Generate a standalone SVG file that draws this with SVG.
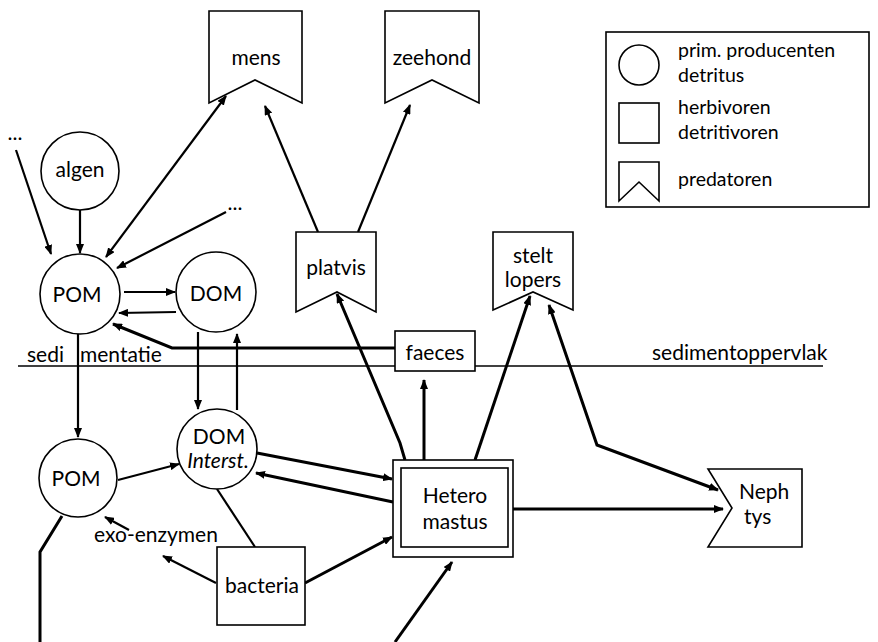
<svg xmlns="http://www.w3.org/2000/svg" width="878" height="642" viewBox="0 0 878 642">
<style>
  .shape { fill: #fff; stroke: #000; stroke-width: 1.6; }
  .t { font-family: Lato, "Open Sans", "Liberation Sans", sans-serif; font-size: 21px; fill: #000; }
  .c { text-anchor: middle; }
  .lg { font-size: 19.5px; }
  .conn line, .conn polyline { stroke: #000; stroke-width: 2.2; fill: none; }
  .conn .thick { stroke-width: 3; }
  .a { marker-end: url(#ah); }
  .b { marker-start: url(#ah); marker-end: url(#ah); }
</style>
<defs>
  <marker id="ah" viewBox="0 0 10 8" refX="9" refY="4" markerWidth="10" markerHeight="8" markerUnits="userSpaceOnUse" orient="auto-start-reverse">
    <path d="M0,0 L10,4 L0,8 z" fill="#000"/>
  </marker>
</defs>
<rect width="878" height="642" fill="#fff"/>

<!-- sediment surface -->
<g id="sediment">
  <line x1="18" y1="366" x2="823" y2="366" stroke="#000" stroke-width="1.6"/>
  <text class="t" x="27" y="362">sedi</text>
  <text class="t" x="80" y="362">mentatie</text>
  <text class="t" x="652" y="360">sedimentoppervlak</text>
</g>

<g class="conn" id="connectors">
  <line class="a" x1="16" y1="150" x2="51" y2="254"/>
  <line class="a" x1="80" y1="210" x2="80" y2="253"/>
  <line class="b" x1="226" y1="96" x2="106" y2="257"/>
  <line class="a" x1="226" y1="212" x2="117" y2="268"/>
  <line class="a" x1="124" y1="292" x2="175" y2="292"/>
  <line class="a" x1="176" y1="312" x2="119" y2="313"/>
  <polyline class="a thick" points="395,348 172,348 113,324"/>
  <line class="a" x1="78" y1="334" x2="78" y2="437"/>
  <line class="a" x1="198" y1="332" x2="198" y2="409"/>
  <line class="a" x1="237" y1="410" x2="237" y2="334"/>
  <line class="a" x1="118" y1="480" x2="179" y2="464"/>
  <line class="a thick" x1="257" y1="453" x2="392" y2="479"/>
  <line class="a thick" x1="393" y1="502" x2="256" y2="473"/>
  <line x1="217" y1="489" x2="255" y2="547"/>
  <line class="a" x1="129" y1="530" x2="105" y2="517"/>
  <line class="a" x1="216" y1="583" x2="163" y2="556"/>
  <line class="a thick" x1="305" y1="583" x2="392" y2="537"/>
  <line class="a thick" x1="395" y1="642" x2="452" y2="562"/>
  <polyline class="thick" points="62,516 40,552 40,642"/>
  <polyline class="a thick" points="405,460 400,443 337,294"/>
  <line class="a thick" x1="424" y1="460" x2="424" y2="380"/>
  <line class="a thick" x1="475" y1="460" x2="530" y2="296"/>
  <polyline class="b thick" points="718,490 597,445 549,305"/>
  <line class="a thick" x1="513" y1="509" x2="723" y2="509"/>
  <line class="a" x1="318" y1="232" x2="265" y2="106"/>
  <line class="a" x1="358" y1="232" x2="410" y2="105"/>
</g>

<g id="dots-left"><text class="t c" x="15" y="140" font-size="14">...</text></g>
<g id="dots-right"><text class="t c" x="235" y="210" font-size="14">...</text></g>

<g id="mens">
  <polygon class="shape" points="209,11 302,11 302,103 255,80 209,103"/>
  <text class="t c" x="256" y="65">mens</text>
</g>
<g id="zeehond">
  <polygon class="shape" points="385,11 479,11 479,103 432,80 385,103"/>
  <text class="t c" x="432" y="65">zeehond</text>
</g>
<g id="algen">
  <circle class="shape" cx="80" cy="171" r="39"/>
  <text class="t c" x="80" y="177">algen</text>
</g>
<g id="pom-top">
  <circle class="shape" cx="80" cy="294" r="40"/>
  <text class="t c" x="77" y="302" font-size="23">POM</text>
</g>
<g id="dom-top">
  <circle class="shape" cx="216" cy="292" r="40"/>
  <text class="t c" x="216" y="301" font-size="23">DOM</text>
</g>
<g id="platvis">
  <polygon class="shape" points="296,232 376,232 376,312 337,292 296,312"/>
  <text class="t c" x="336" y="275">platvis</text>
</g>
<g id="steltlopers">
  <polygon class="shape" points="493,232 573,232 573,310 533,292 493,310"/>
  <text class="t c" x="533" y="263">stelt</text>
  <text class="t c" x="533" y="287">lopers</text>
</g>
<g id="faeces">
  <rect class="shape" x="395" y="331" width="80" height="40"/>
  <text class="t c" x="435" y="360">faeces</text>
</g>
<g id="pom-bottom">
  <circle class="shape" cx="78" cy="478" r="39"/>
  <text class="t c" x="76" y="486" font-size="23">POM</text>
</g>
<g id="dom-interst">
  <circle class="shape" cx="217" cy="449" r="40"/>
  <text class="t c" x="219" y="444" font-size="20">DOM</text>
  <text class="t c" x="218" y="468" font-style="italic" font-size="19">Interst.</text>
</g>
<g id="exo-enzymen">
  <text class="t c" x="156" y="542">exo-enzymen</text>
</g>
<g id="bacteria">
  <rect class="shape" x="217" y="547" width="88" height="78"/>
  <text class="t c" x="262" y="593">bacteria</text>
</g>
<g id="heteromastus">
  <rect class="shape" x="393" y="460" width="120" height="97"/>
  <rect class="shape" x="401" y="468" width="107" height="79"/>
  <text class="t c" x="455" y="503">Hetero</text>
  <text class="t c" x="455" y="529">mastus</text>
</g>
<g id="nephtys">
  <polygon class="shape" points="708,469 802,469 802,547 708,547 732,508"/>
  <text class="t" x="739" y="499" font-size="20">Neph</text>
  <text class="t" x="744" y="524" font-size="20">tys</text>
</g>
<g id="legend">
  <rect class="shape" x="606" y="32" width="263" height="175"/>
  <circle class="shape" cx="639" cy="65" r="20"/>
  <rect class="shape" x="619" y="103" width="40" height="40"/>
  <polygon class="shape" points="619,162 659,162 659,201 639,182 619,201"/>
  <text class="t lg" x="678" y="57">prim. producenten</text>
  <text class="t lg" x="678" y="82">detritus</text>
  <text class="t lg" x="678" y="114">herbivoren</text>
  <text class="t lg" x="678" y="139">detritivoren</text>
  <text class="t lg" x="678" y="186">predatoren</text>
</g>
</svg>
